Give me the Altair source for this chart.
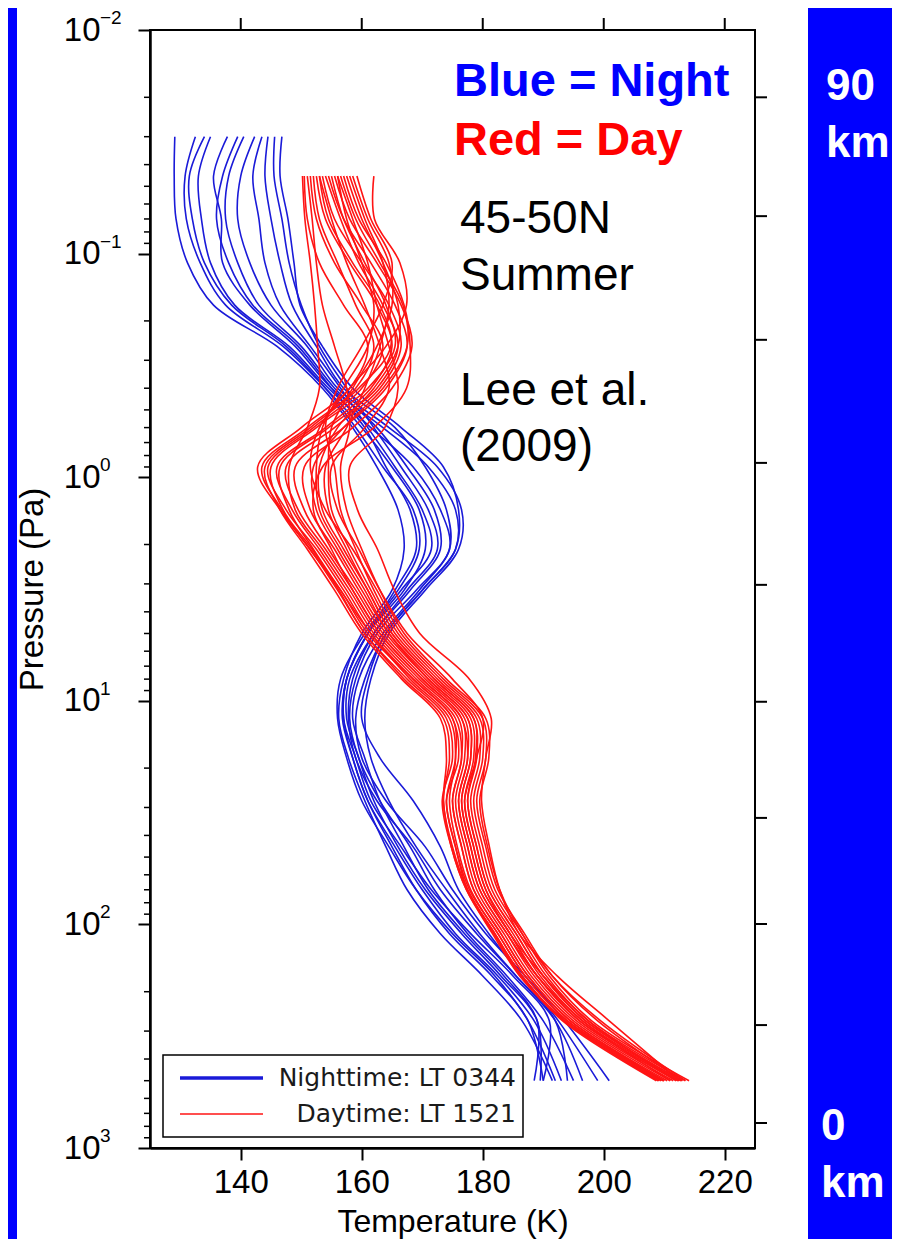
import altair as alt
import pandas as pd

# ---------------- data ----------------
night_p = [0.03, 0.045, 0.07, 0.11, 0.17, 0.26, 0.4, 0.6, 0.9, 1.4, 2.1, 3.2,
           5, 8, 12, 18, 28, 45, 70, 110, 170, 270, 500]
day_p = [0.045, 0.07, 0.11, 0.17, 0.26, 0.4, 0.6, 0.9, 1.4, 2.1, 3.2,
         5, 8, 12, 18, 28, 45, 70, 110, 170, 270, 500]

night_T = [
    [129.1, 129.0, 129.3, 131.2, 135.5, 146.0, 153.5, 158.5, 162.5, 166.0, 167.0, 165.0, 160.0, 157.0, 156.2, 157.8, 160.5, 164.0, 167.5, 173.0, 180.0, 186.5, 191.5],
    [132.5, 130.8, 131.0, 133.3, 137.5, 147.0, 154.0, 160.0, 165.0, 169.5, 170.5, 167.0, 161.0, 157.5, 156.8, 158.5, 161.0, 165.5, 170.0, 175.5, 182.5, 188.5, 193.0],
    [135.0, 133.0, 133.5, 135.0, 139.0, 148.0, 154.5, 161.5, 168.5, 173.0, 174.5, 169.0, 162.5, 159.0, 158.0, 159.5, 163.0, 168.0, 172.0, 177.5, 184.0, 190.0, 195.0],
    [137.8, 135.5, 136.8, 137.0, 141.5, 149.0, 155.0, 163.5, 171.0, 175.5, 175.5, 170.0, 164.0, 160.5, 159.0, 160.0, 164.0, 170.5, 175.0, 180.5, 187.0, 193.5, 200.9],
    [140.5, 138.0, 137.5, 139.5, 143.0, 150.0, 155.5, 162.5, 167.5, 172.0, 173.0, 168.0, 162.0, 158.0, 157.5, 159.5, 162.0, 166.0, 170.5, 176.5, 183.0, 189.0, 189.5],
    [142.3, 140.0, 139.5, 141.5, 145.0, 151.0, 156.0, 164.5, 172.5, 176.5, 176.0, 170.5, 164.5, 161.5, 160.5, 161.5, 164.5, 169.0, 174.0, 179.5, 185.5, 192.0, 196.5],
    [143.5, 142.0, 143.0, 144.0, 146.5, 151.5, 156.5, 161.0, 165.5, 170.0, 171.5, 166.5, 161.0, 157.5, 157.0, 159.0, 161.5, 166.5, 171.5, 178.0, 185.0, 191.0, 190.0],
    [144.5, 144.0, 145.0, 146.5, 148.5, 152.5, 157.0, 165.5, 170.5, 174.0, 174.5, 169.5, 163.5, 159.5, 158.5, 160.5, 163.0, 167.0, 171.0, 177.0, 183.5, 189.0, 188.5],
    [145.6, 145.5, 146.8, 148.0, 150.0, 153.0, 157.5, 162.0, 166.5, 171.0, 172.5, 167.5, 162.0, 158.5, 157.8, 159.0, 162.5, 168.5, 173.0, 179.0, 185.5, 192.0, 194.0],
    [146.8, 146.5, 147.8, 148.8, 149.8, 153.5, 158.5, 166.5, 173.5, 176.0, 175.5, 170.0, 164.0, 161.0, 160.0, 163.0, 168.5, 173.0, 176.0, 181.0, 186.5, 192.5, 199.0],
    [139.5, 137.0, 136.0, 138.0, 142.0, 149.5, 155.0, 160.5, 164.0, 168.0, 169.0, 165.5, 161.0, 157.5, 157.0, 158.5, 161.0, 165.0, 169.0, 174.5, 181.5, 187.5, 190.0],
    [134.0, 131.5, 132.0, 134.0, 138.5, 147.5, 154.0, 159.0, 163.5, 168.5, 169.5, 166.0, 160.5, 156.5, 156.0, 157.5, 160.0, 164.5, 169.0, 175.0, 182.0, 187.5, 192.0],
]

day_T = [
    [150.5, 151.0, 153.0, 157.0, 161.0, 158.0, 150.0, 142.8, 146.5, 151.5, 156.0, 160.5, 167.0, 173.5, 174.5, 173.5, 175.0, 177.5, 182.0, 186.5, 193.5, 209.0],
    [151.5, 152.5, 155.5, 160.0, 163.5, 160.0, 152.0, 144.5, 147.5, 152.5, 157.0, 161.5, 168.0, 174.5, 175.5, 174.5, 175.8, 178.0, 182.5, 187.0, 194.0, 209.8],
    [152.5, 154.0, 158.0, 162.5, 165.0, 161.5, 154.0, 146.0, 148.5, 153.0, 157.5, 162.0, 169.0, 175.5, 176.5, 175.0, 176.5, 178.5, 183.0, 187.5, 194.5, 210.5],
    [153.5, 155.5, 160.0, 164.5, 166.5, 163.0, 155.5, 147.5, 149.5, 154.0, 158.5, 163.0, 170.0, 176.5, 177.0, 175.5, 177.0, 179.0, 183.5, 188.0, 195.0, 211.0],
    [154.5, 157.0, 161.5, 165.5, 167.5, 164.0, 157.0, 149.0, 150.5, 154.5, 159.0, 163.5, 170.5, 177.0, 177.5, 176.0, 177.5, 179.5, 184.0, 188.5, 195.5, 211.5],
    [155.5, 158.0, 162.5, 166.5, 168.3, 165.0, 158.5, 150.5, 151.5, 155.5, 159.5, 164.0, 171.0, 177.5, 178.0, 176.5, 178.0, 180.0, 184.5, 189.0, 196.0, 212.0],
    [156.5, 159.0, 163.0, 166.8, 167.5, 163.5, 157.0, 152.0, 152.5, 156.0, 160.0, 164.5, 171.5, 178.0, 178.5, 177.0, 178.5, 180.5, 185.0, 189.5, 196.5, 212.5],
    [157.5, 160.0, 163.5, 166.0, 166.0, 162.0, 156.0, 153.0, 153.5, 157.0, 161.0, 165.0, 172.0, 178.5, 179.0, 177.5, 179.0, 181.0, 185.5, 190.0, 197.0, 213.0],
    [158.5, 161.0, 164.5, 165.0, 162.5, 158.5, 155.0, 154.5, 155.0, 158.0, 161.5, 165.5, 172.5, 179.0, 179.5, 178.0, 179.5, 181.5, 186.0, 190.5, 197.5, 213.5],
    [159.2, 161.5, 165.0, 163.5, 160.0, 156.0, 154.0, 155.5, 156.5, 159.0, 162.0, 166.0, 173.0, 179.5, 180.0, 178.5, 180.0, 182.0, 186.5, 191.0, 198.0, 214.1],
    [162.0, 162.1, 166.3, 167.4, 164.0, 158.0, 153.0, 151.5, 154.0, 158.5, 162.5, 166.5, 173.5, 180.0, 180.5, 179.0, 180.5, 182.5, 186.9, 191.5, 199.0, 213.0],
    [150.2, 150.6, 151.5, 152.2, 152.7, 153.0, 151.0, 148.0, 149.0, 153.5, 158.0, 162.5, 169.5, 176.0, 176.5, 175.0, 176.5, 178.5, 183.0, 187.5, 194.5, 210.0],
    [151.0, 151.8, 152.5, 153.5, 155.5, 157.5, 158.0, 156.5, 157.5, 160.0, 163.0, 167.0, 174.0, 180.5, 181.0, 179.5, 180.8, 182.8, 186.5, 191.5, 199.5, 213.5],
    [156.0, 158.5, 161.0, 162.5, 164.5, 166.0, 163.8, 158.0, 159.3, 162.6, 165.4, 169.6, 177.8, 181.4, 180.5, 179.8, 181.1, 182.8, 186.0, 192.3, 200.9, 212.5],
    [153.0, 155.0, 157.5, 160.5, 163.0, 164.5, 160.5, 155.0, 156.0, 159.5, 163.0, 167.5, 175.0, 180.0, 179.0, 177.0, 178.5, 180.5, 184.5, 190.0, 197.5, 212.0],
    [157.0, 159.5, 164.0, 167.0, 168.0, 167.4, 162.0, 153.5, 152.0, 155.0, 158.5, 163.0, 170.0, 176.5, 177.5, 176.0, 177.5, 179.5, 184.0, 189.0, 196.5, 211.0],
    [152.0, 153.0, 156.0, 159.0, 162.0, 159.0, 151.0, 143.5, 146.8, 151.4, 156.5, 161.0, 168.5, 175.0, 176.0, 174.0, 175.5, 177.5, 182.0, 186.5, 193.2, 208.7],
    [154.0, 156.5, 159.5, 163.5, 166.0, 162.5, 154.5, 146.5, 148.0, 152.0, 156.5, 161.5, 168.5, 175.0, 175.5, 174.0, 175.5, 177.8, 182.5, 187.0, 194.0, 210.0],
    [155.0, 157.0, 160.5, 164.0, 165.5, 161.0, 152.5, 145.0, 147.0, 151.8, 156.2, 160.5, 167.5, 174.0, 175.0, 173.3, 174.8, 177.3, 181.6, 186.1, 193.5, 209.5],
    [158.0, 160.5, 163.5, 164.5, 163.0, 160.5, 157.5, 154.0, 154.5, 157.5, 161.0, 165.0, 172.0, 178.5, 178.8, 177.5, 179.0, 181.0, 185.5, 190.0, 197.0, 212.8],
    [153.0, 154.5, 158.5, 163.0, 164.8, 159.5, 151.5, 144.0, 146.5, 151.0, 155.5, 160.0, 166.6, 173.0, 174.0, 173.5, 174.8, 177.3, 181.8, 186.3, 193.6, 209.2],
    [156.0, 157.5, 160.0, 162.0, 161.0, 157.0, 153.5, 152.5, 153.0, 156.5, 160.5, 164.5, 171.0, 177.5, 178.0, 176.5, 178.0, 180.0, 184.5, 189.0, 196.0, 212.3],
]

x_ticks = [140, 160, 180, 200, 220]
y_major = [0.01, 0.1, 1, 10, 100, 1000]
y_exponents = ["\u22122", "\u22121", "0", "1", "2", "3"]
y_minor = [m * d for d in [0.01, 0.1, 1, 10, 100] for m in range(2, 10)]
alt_ticks_p = [0.02, 0.068, 0.243, 0.863, 3.03, 10.1, 33.4, 99.6, 282, 773]

legend_night = "Nighttime: LT 0344"
legend_day = "Daytime: LT 1521"

# ---------------- build table ----------------
rows = []
for i, ser in enumerate(night_T):
    for j, (p, t) in enumerate(zip(night_p, ser)):
        rows.append({"pid": f"n{i}", "grp": "night", "lev": j, "p": p, "T": t})
for i, ser in enumerate(day_T):
    for j, (p, t) in enumerate(zip(day_p, ser)):
        rows.append({"pid": f"d{i}", "grp": "day", "lev": j, "p": p, "T": t})
df = pd.DataFrame(rows)

BLUE_BG = "#0000ff"
NIGHT = "#1a1ad8"
DAY = "#ff1414"
FONT = "Liberation Sans"

X_SCALE = alt.Scale(domain=[125, 225], nice=False, zero=False)
Y_SCALE = alt.Scale(type="log", domain=[0.01, 1000], reverse=True, nice=False)

x_axis = alt.Axis(values=x_ticks, title="Temperature (K)", grid=False,
                  labelFont=FONT, labelFontSize=33, labelColor="black", labelPadding=6,
                  labelFlush=False, tickSize=12, tickWidth=2, tickColor="black",
                  domainColor="black", domainWidth=2.5,
                  titleFont=FONT, titleFontSize=32, titleFontWeight="normal",
                  titleColor="black", titleY=83, titleBaseline="alphabetic", zindex=1)
y_axis = alt.Axis(values=y_major, labelExpr="'10'", title="Pressure (Pa)", grid=False,
                  labelFont=FONT, labelFontSize=33, labelColor="black", labelPadding=38,
                  labelFlush=False, labelOverlap=False, tickSize=12, tickWidth=2,
                  tickColor="black", domainColor="black", domainWidth=2.5,
                  titleFont=FONT, titleFontSize=33, titleFontWeight="normal",
                  titleColor="black", titleX=-101, titleY=559, titleBaseline="bottom",
                  titleAngle=270, zindex=1)

X_ENC = lambda: alt.X("T:Q", scale=X_SCALE, axis=x_axis)
Y_ENC = lambda: alt.Y("p:Q", scale=Y_SCALE, axis=y_axis)

dummy = pd.DataFrame({"k": [0]})

def vrect(x, x2, y, y2, **kw):
    return alt.Chart(dummy).mark_rect(**kw).encode(
        x=alt.value(x), x2=alt.value(x2), y=alt.value(y), y2=alt.value(y2))

def vtext(txt, x, y, **kw):
    return alt.Chart(pd.DataFrame({"t": [txt]})).mark_text(**kw).encode(
        text="t:N", x=alt.value(x), y=alt.value(y))

# blue side strips
strips = vrect(-142, -133, -22, 1209, color=BLUE_BG) + vrect(658, 760, -22, 1209, color=BLUE_BG)

night_lines = alt.Chart(df[df.grp == "night"]).mark_line(
    strokeWidth=1.6, interpolate="catmull-rom", color=NIGHT).encode(
    x=X_ENC(), y=Y_ENC(), detail="pid:N", order=alt.Order("lev:Q"))

day_lines = alt.Chart(df[df.grp == "day"]).mark_line(
    strokeWidth=1.6, interpolate="catmull-rom", color=DAY).encode(
    x=X_ENC(), y=Y_ENC(), detail="pid:N", order=alt.Order("lev:Q"))

minor_ticks = alt.Chart(pd.DataFrame({"p": y_minor})).mark_rule(
    color="black", strokeWidth=1.5).encode(
    y=Y_ENC(), x=alt.value(-6), x2=alt.value(0))

right_ticks = alt.Chart(pd.DataFrame({"p": alt_ticks_p})).mark_rule(
    color="black", strokeWidth=2).encode(
    y=Y_ENC(), x=alt.value(605), x2=alt.value(617))

top_ticks = alt.Chart(pd.DataFrame({"T": x_ticks})).mark_rule(
    color="black", strokeWidth=2).encode(
    x=X_ENC(), y=alt.value(-12), y2=alt.value(0))

exps = alt.Chart(pd.DataFrame({"p": y_major, "e": y_exponents})).mark_text(
    align="left", baseline="middle", dy=-12, fontSize=19, font=FONT, color="black").encode(
    y=Y_ENC(), x=alt.value(-50), text="e:N")

# legend box
LFONT = "DejaVu Sans"
legend = (
    vrect(13, 373, 1025, 1107, fill="white", stroke="black", strokeWidth=1.5)
    + alt.Chart(dummy).mark_rule(color=NIGHT, strokeWidth=3.5).encode(
        x=alt.value(30), x2=alt.value(113), y=alt.value(1048))
    + alt.Chart(dummy).mark_rule(color=DAY, strokeWidth=1.6).encode(
        x=alt.value(30), x2=alt.value(113), y=alt.value(1084))
    + vtext(legend_night, 366, 1048, align="right", baseline="middle", font=LFONT,
            fontSize=25, color="#1a1a1a")
    + vtext(legend_day, 366, 1084, align="right", baseline="middle", font=LFONT,
            fontSize=25, color="#1a1a1a")
)

notes = (
    vtext("Blue = Night", 304, 66, align="left", baseline="alphabetic", font=FONT,
          fontSize=47, fontWeight="bold", color="#0000ff")
    + vtext("Red = Day", 304, 125, align="left", baseline="alphabetic", font=FONT,
            fontSize=47, fontWeight="bold", color="#ff0000")
    + vtext("45-50N", 310, 203, align="left", baseline="alphabetic", font=FONT,
            fontSize=46, color="black")
    + vtext("Summer", 310, 260, align="left", baseline="alphabetic", font=FONT,
            fontSize=46, color="black")
    + vtext("Lee et al.", 310, 375, align="left", baseline="alphabetic", font=FONT,
            fontSize=46, color="black")
    + vtext("(2009)", 310, 431, align="left", baseline="alphabetic", font=FONT,
            fontSize=46, color="black")
    + vtext("90", 676, 70, align="left", baseline="alphabetic", font=FONT,
            fontSize=44, fontWeight="bold", color="white")
    + vtext("km", 676, 127, align="left", baseline="alphabetic", font=FONT,
            fontSize=44, fontWeight="bold", color="white")
    + vtext("0", 671, 1110, align="left", baseline="alphabetic", font=FONT,
            fontSize=44, fontWeight="bold", color="white")
    + vtext("km", 671, 1167, align="left", baseline="alphabetic", font=FONT,
            fontSize=44, fontWeight="bold", color="white")
)

chart = alt.layer(
    strips, night_lines, day_lines, minor_ticks, right_ticks, top_ticks, exps, legend, notes
).properties(
    width=605, height=1118,
    autosize=alt.AutoSizeParams(type="none"),
    padding={"left": 142, "top": 22, "right": 137, "bottom": 91},
    background="white",
).configure_view(stroke="black", strokeWidth=2)

chart.save("out.html", embed_options={"renderer": "svg", "actions": False})
